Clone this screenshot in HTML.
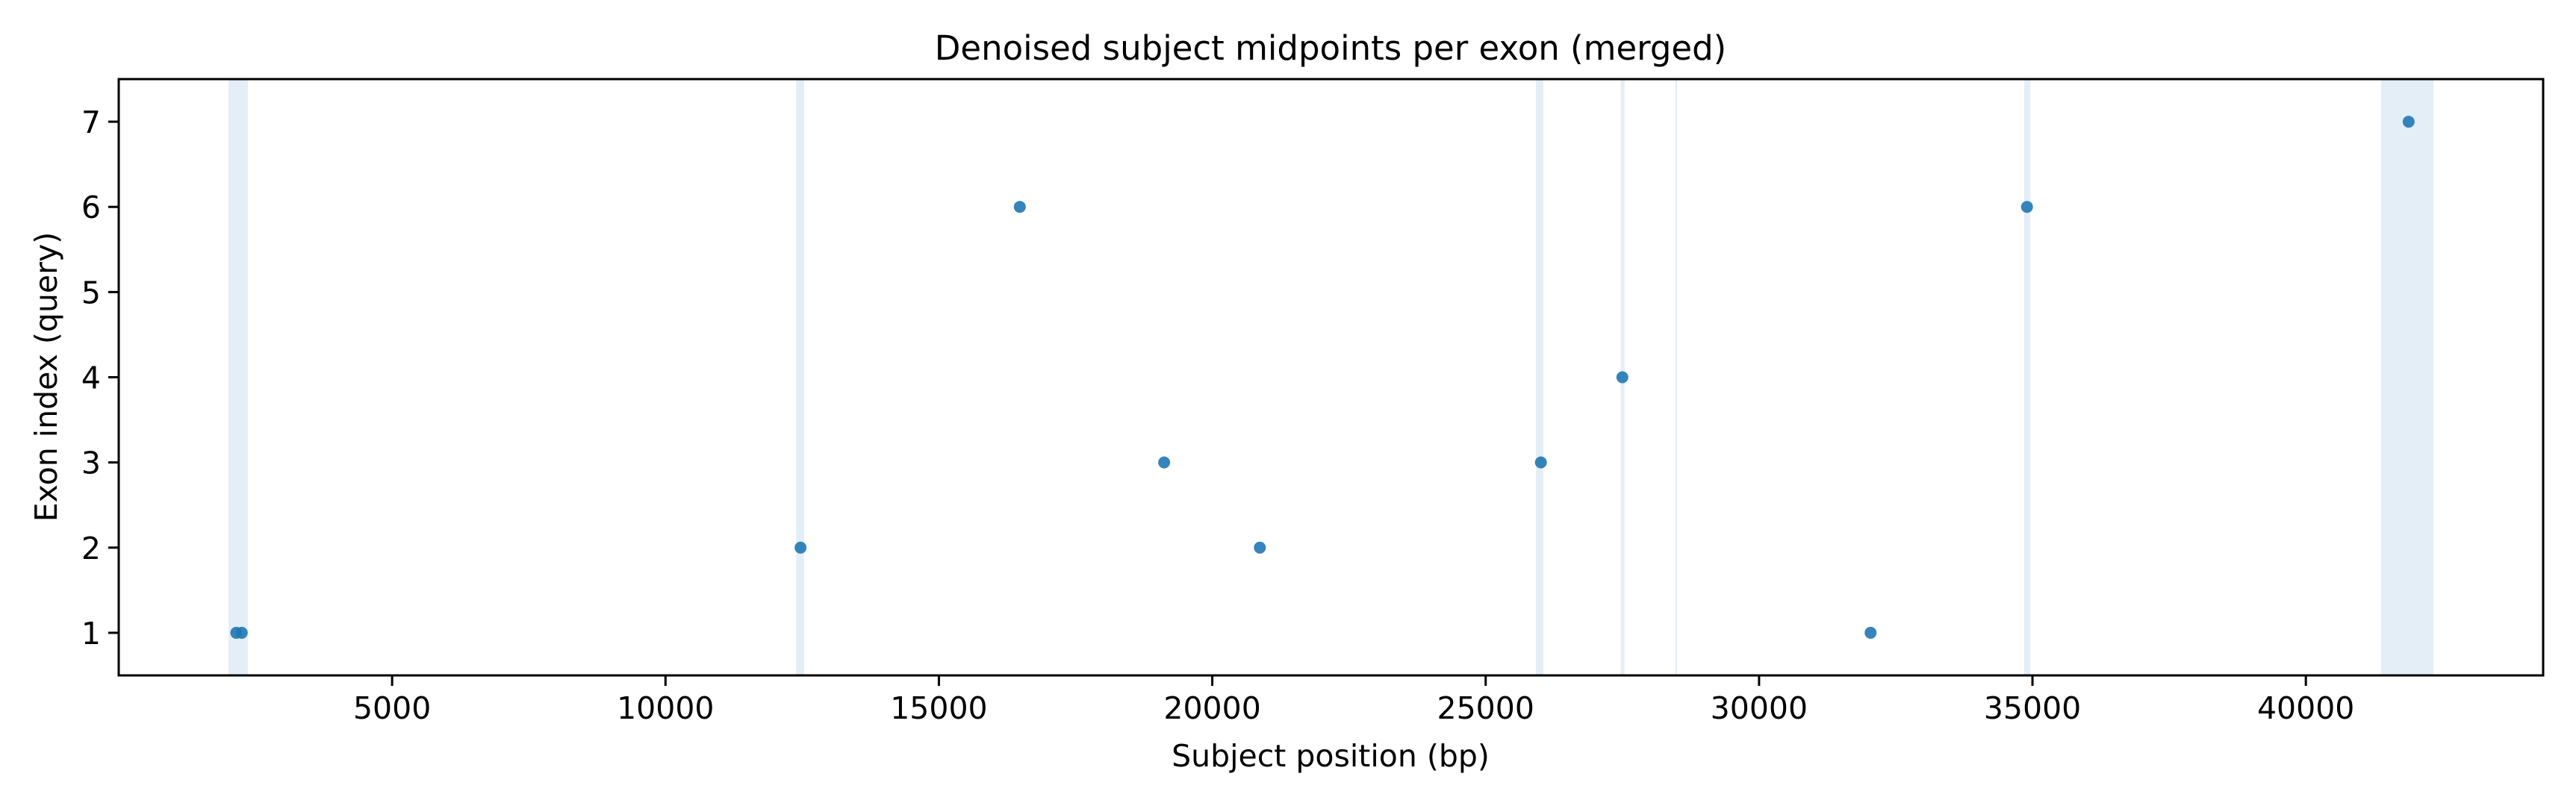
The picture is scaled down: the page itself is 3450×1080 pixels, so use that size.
<!DOCTYPE html>
<html><head><meta charset="utf-8"><style>
html,body{margin:0;padding:0;background:#fff;}
svg{display:block;font-family:"DejaVu Sans","Liberation Sans",sans-serif;}
</style></head><body>
<svg id="chart" width="3450" height="1080" viewBox="0 0 3450 1080" xmlns="http://www.w3.org/2000/svg">
<rect width="3450" height="1080" fill="#fff"/>
<g id="bands"></g>
<g id="points"></g>
<rect x="159" y="106" width="3247" height="799" fill="none" stroke="#000" stroke-width="3"/>
<g id="xticks"></g>
<g id="yticks"></g>
<text x="1782" y="80" text-anchor="middle" font-size="45">Denoised subject midpoints per exon (merged)</text>
<text x="1782" y="1027" text-anchor="middle" font-size="41">Subject position (bp)</text>
<text transform="translate(76,505) rotate(-90)" text-anchor="middle" font-size="41">Exon index (query)</text>
</svg>
<script>
const pointX = [2150, 2250, 12470, 16480, 19120, 20870, 26010, 27500, 32040, 34900, 41880];
const pointY = [1, 1, 2, 6, 3, 2, 3, 4, 1, 6, 7];
const bandStart = [2007, 12390, 25920, 27470, 28470, 34850, 41376];
const bandEnd = [2362, 12535, 26055, 27540, 28500, 34960, 42332];
const xTicks = [5000, 10000, 15000, 20000, 25000, 30000, 35000, 40000];
const yTicks = [1, 2, 3, 4, 5, 6, 7];

const X0 = 159, X1 = 3406, Y0 = 905, Y1 = 106;
const xMin = 0, xMax = 44340, yMin = 0.5, yMax = 7.5;
function sx(v){ return X0 + (v - xMin) / (xMax - xMin) * (X1 - X0); }
function sy(v){ return Y0 - (v - yMin) / (yMax - yMin) * (Y0 - Y1); }
const NS = "http://www.w3.org/2000/svg";
function mk(tag, attrs, parent){ const e = document.createElementNS(NS, tag); for (const k in attrs) e.setAttribute(k, attrs[k]); parent.appendChild(e); return e; }

const gb = document.getElementById('bands');
for (let i = 0; i < bandStart.length; i++) {
  const r = mk('rect', {x: sx(bandStart[i]), y: Y1, width: Math.max(2, sx(bandEnd[i]) - sx(bandStart[i])), height: Y0 - Y1, fill: '#e3eef6'}, gb);
  
  
}
const gp = document.getElementById('points');
for (let i = 0; i < pointX.length; i++) {
  const c = mk('circle', {cx: sx(pointX[i]), cy: sy(pointY[i]), r: 8, fill: '#1f77b4', 'fill-opacity': 0.9}, gp);
  
  
}
const gx = document.getElementById('xticks');
for (const t of xTicks) {
  const l = mk('line', {x1: sx(t), x2: sx(t), y1: Y0, y2: Y0 + 14, stroke: '#000', 'stroke-width': 3}, gx);
  
  
  const tx = mk('text', {x: sx(t), y: Y0 + 58, 'text-anchor': 'middle', 'font-size': 41}, gx);
  tx.textContent = t;
  
  
}
const gy = document.getElementById('yticks');
for (const t of yTicks) {
  const l = mk('line', {x1: X0 - 14, x2: X0, y1: sy(t), y2: sy(t), stroke: '#000', 'stroke-width': 3}, gy);
  
  
  const tx = mk('text', {x: X0 - 24, y: sy(t) + 15, 'text-anchor': 'end', 'font-size': 41}, gy);
  tx.textContent = t;
  
  
}
</script>
</body></html>
